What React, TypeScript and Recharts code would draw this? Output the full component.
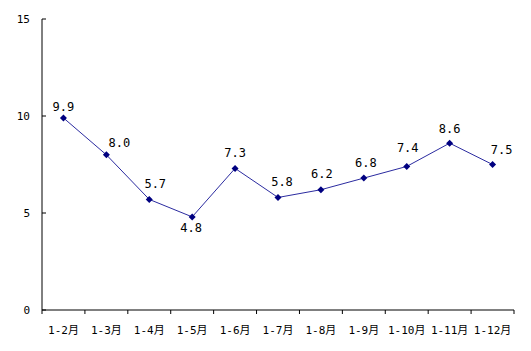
import { LineChart, Line, XAxis, YAxis, LabelList } from 'recharts'

const months = ['1-2月', '1-3月', '1-4月', '1-5月', '1-6月', '1-7月', '1-8月', '1-9月', '1-10月', '1-11月', '1-12月']
const growth = [9.9, 8.0, 5.7, 4.8, 7.3, 5.8, 6.2, 6.8, 7.4, 8.6, 7.5]
const yTicks = [0, 5, 10, 15]

// hand-placed value labels, as in the original sheet (dx, dy from the point)
const labelOffsets: [number, number][] = [
  [0, -11], [13, -12], [6, -15], [-1, 11], [0, -15], [4, -15],
  [1, -16], [2, -15], [1, -18], [0, -14], [9, -15],
]

const W = 531
const H = 351
const margin = { top: 19, right: 17, bottom: 0, left: 0 }
const yAxisWidth = 42
const band = (W - yAxisWidth - margin.right) / months.length

const axisFont = '"DejaVu Sans Mono", "Noto Sans CJK SC", monospace'

const data = months.map((m, i) => ({ month: m, value: growth[i] }))

function YTick({ x, y, payload }: any) {
  return (
    <g>
      <line x1={x} x2={x + 4} y1={y} y2={y} stroke="#000" />
      <text x={x - 12} y={y + 4} textAnchor="end" fontSize={11} fontFamily={axisFont} fill="#000">
        {payload.value}
      </text>
    </g>
  )
}

function XTick({ x, y, payload, index }: any) {
  const left = x - band / 2
  return (
    <g>
      <line x1={left} x2={left} y1={y} y2={y + 4} stroke="#000" />
      {index === months.length - 1 && (
        <line x1={x + band / 2} x2={x + band / 2} y1={y} y2={y + 4} stroke="#000" />
      )}
      <text x={x} y={y + 24} textAnchor="middle" fontSize={11} fontFamily={axisFont} fill="#000">
        {payload.value}
      </text>
    </g>
  )
}

function Diamond({ cx, cy }: any) {
  if (cx == null || cy == null) return null
  const r = 3.5
  return <path d={`M${cx},${cy - r}L${cx + r},${cy}L${cx},${cy + r}L${cx - r},${cy}Z`} fill="#000080" />
}

function ValueLabel({ x, y, value, index }: any) {
  const [dx, dy] = labelOffsets[index] ?? [0, -12]
  return (
    <text
      x={x + dx}
      y={y + dy + 4}
      textAnchor="middle"
      fontSize={12}
      fontFamily={axisFont}
      fill="#000"
    >
      {Number(value).toFixed(1)}
    </text>
  )
}

export default function App() {
  return (
    <div style={{ position: 'fixed', left: 0, top: 0, width: W, height: H, background: '#fff' }}>
      <LineChart width={W} height={H} data={data} margin={margin}>
        <XAxis
          dataKey="month"
          scale="band"
          stroke="#000"
          tickLine={false}
          tickSize={0}
          tickMargin={0}
          height={H - 310}
          interval={0}
          tick={<XTick />}
        />
        <YAxis
          domain={[0, 15]}
          ticks={yTicks}
          stroke="#000"
          tickLine={false}
          tickSize={0}
          tickMargin={0}
          width={yAxisWidth}
          tick={<YTick />}
        />
        <Line
          type="linear"
          dataKey="value"
          stroke="#2b2ba0"
          strokeWidth={1}
          dot={<Diamond />}
          activeDot={false}
          isAnimationActive={false}
        >
          <LabelList dataKey="value" content={<ValueLabel />} />
        </Line>
      </LineChart>
    </div>
  )
}
